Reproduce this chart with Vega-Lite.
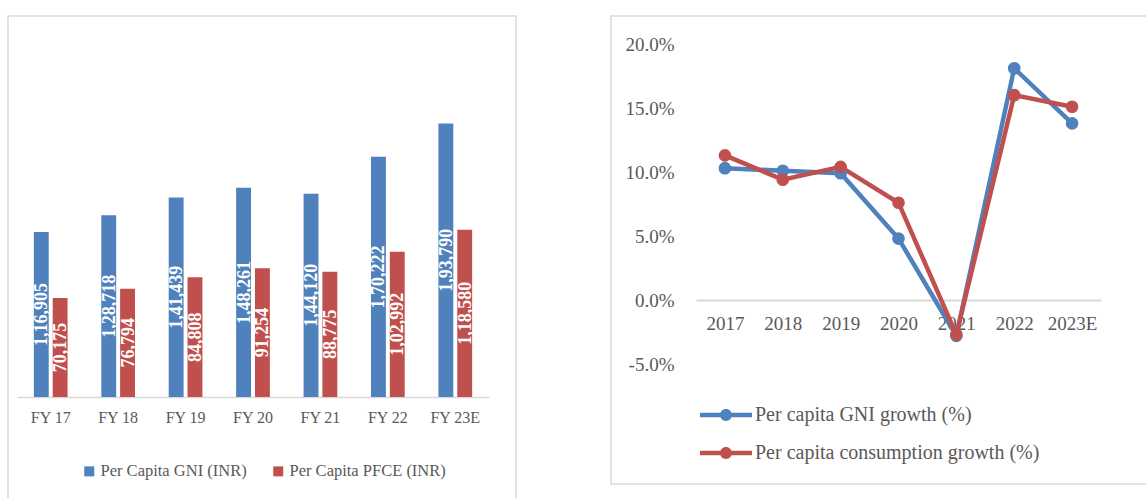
{
  "$schema": "https://vega.github.io/schema/vega-lite/v6.json",
  "padding": {"left": 7, "top": 15, "right": 0, "bottom": 0},
  "background": "white",
  "spacing": 93,
  "config": {
    "view": {"stroke": "#d9d9d9", "strokeWidth": 1.5},
    "font": "Liberation Serif",
    "axis": {"labelFont": "Liberation Serif", "labelColor": "#595959"},
    "legend": {"labelFont": "Liberation Serif", "labelColor": "#595959", "labelLimit": 0}
  },
  "datasets": {
    "levels": [
      {"year": "FY 17", "series": "Per Capita GNI (INR)", "value": 116905, "label": "1,16,905"},
      {"year": "FY 17", "series": "Per Capita PFCE (INR)", "value": 70175, "label": "70,175"},
      {"year": "FY 18", "series": "Per Capita GNI (INR)", "value": 128718, "label": "1,28,718"},
      {"year": "FY 18", "series": "Per Capita PFCE (INR)", "value": 76794, "label": "76,794"},
      {"year": "FY 19", "series": "Per Capita GNI (INR)", "value": 141439, "label": "1,41,439"},
      {"year": "FY 19", "series": "Per Capita PFCE (INR)", "value": 84808, "label": "84,808"},
      {"year": "FY 20", "series": "Per Capita GNI (INR)", "value": 148261, "label": "1,48,261"},
      {"year": "FY 20", "series": "Per Capita PFCE (INR)", "value": 91254, "label": "91,254"},
      {"year": "FY 21", "series": "Per Capita GNI (INR)", "value": 144120, "label": "1,44,120"},
      {"year": "FY 21", "series": "Per Capita PFCE (INR)", "value": 88775, "label": "88,775"},
      {"year": "FY 22", "series": "Per Capita GNI (INR)", "value": 170222, "label": "1,70,222"},
      {"year": "FY 22", "series": "Per Capita PFCE (INR)", "value": 102992, "label": "1,02,992"},
      {"year": "FY 23E", "series": "Per Capita GNI (INR)", "value": 193790, "label": "1,93,790"},
      {"year": "FY 23E", "series": "Per Capita PFCE (INR)", "value": 118580, "label": "1,18,580"}
    ],
    "growth": [
      {"year": "2017", "series": "Per capita GNI growth (%)", "growth": 0.103},
      {"year": "2018", "series": "Per capita GNI growth (%)", "growth": 0.101},
      {"year": "2019", "series": "Per capita GNI growth (%)", "growth": 0.099},
      {"year": "2020", "series": "Per capita GNI growth (%)", "growth": 0.048},
      {"year": "2021", "series": "Per capita GNI growth (%)", "growth": -0.028},
      {"year": "2022", "series": "Per capita GNI growth (%)", "growth": 0.181},
      {"year": "2023E", "series": "Per capita GNI growth (%)", "growth": 0.138},
      {"year": "2017", "series": "Per capita consumption growth (%)", "growth": 0.113},
      {"year": "2018", "series": "Per capita consumption growth (%)", "growth": 0.094},
      {"year": "2019", "series": "Per capita consumption growth (%)", "growth": 0.104},
      {"year": "2020", "series": "Per capita consumption growth (%)", "growth": 0.076},
      {"year": "2021", "series": "Per capita consumption growth (%)", "growth": -0.027},
      {"year": "2022", "series": "Per capita consumption growth (%)", "growth": 0.16},
      {"year": "2023E", "series": "Per capita consumption growth (%)", "growth": 0.151}
    ]
  },
  "resolve": {"scale": {"color": "independent", "x": "independent", "y": "independent"}, "legend": {"color": "independent"}},
  "hconcat": [
    {
      "width": 508,
      "height": 490,
      "data": {"name": "levels"},
      "encoding": {
        "x": {"field": "year", "type": "nominal", "sort": null,
          "scale": {"range": [9, 481], "paddingInner": 0.5, "paddingOuter": 0.25},
          "axis": {"orient": "bottom", "offset": -109, "title": null, "labelAngle": 0, "labelFontSize": 16, "labelPadding": 12, "ticks": false, "domainColor": "#d9d9d9", "domainWidth": 1.5}},
        "xOffset": {"field": "series", "type": "nominal", "sort": null, "scale": {"paddingInner": 0.21, "paddingOuter": 0}}
      },
      "layer": [
        {
          "mark": {"type": "bar"},
          "encoding": {
            "y": {"field": "value", "type": "quantitative", "scale": {"domain": [-77250, 270000], "nice": false}, "axis": null},
            "color": {"field": "series", "type": "nominal", "sort": null, "scale": {"range": ["#4f81bd", "#c0504d"]},
              "legend": {"orient": "none", "legendX": 73, "legendY": 447, "direction": "horizontal", "title": null, "symbolType": "square", "symbolSize": 100, "symbolStrokeWidth": 0, "labelFontSize": 16.5, "columnPadding": 23, "labelOffset": 3}}
          }
        },
        {
          "mark": {"type": "text", "angle": 270, "color": "white", "fontWeight": "bold", "fontSize": 18, "font": "Liberation Serif", "baseline": "middle", "align": "center", "dy": 1},
          "encoding": {
            "y": {"field": "value", "type": "quantitative", "scale": {"domain": [-154500, 540000], "nice": false}, "axis": null},
            "text": {"field": "label"}
          }
        }
      ],
      "resolve": {"scale": {"y": "independent"}}
    },
    {
      "width": 545,
      "height": 468,
      "data": {"name": "growth"},
      "encoding": {
        "x": {"field": "year", "type": "ordinal", "sort": null,
          "scale": {"type": "point", "range": [85, 490], "padding": 0.5},
          "axis": {"orient": "bottom", "offset": -184, "title": null, "labelAngle": 0, "labelFontSize": 19, "labelPadding": 14, "ticks": false, "domainColor": "#d9d9d9", "domainWidth": 2}},
        "y": {"field": "growth", "type": "quantitative",
          "scale": {"domain": [-0.14375, 0.221875], "nice": false, "zero": false},
          "axis": {"orient": "left", "offset": -67, "title": null, "values": [-0.05, 0, 0.05, 0.1, 0.15, 0.2], "format": ".1%", "labelExpr": "replace(datum.label, '\u2212', '-')", "labelFontSize": 19, "labelPadding": 4, "ticks": false, "domain": false, "grid": false}},
        "color": {"field": "series", "type": "nominal", "sort": null, "scale": {"range": ["#4f81bd", "#c0504d"]},
          "legend": {"orient": "none", "legendX": 89, "legendY": 373, "direction": "vertical", "title": null,
            "symbolType": "M-1,-0.085L1,-0.085L1,0.085L-1,0.085Z M-0.23,0A0.23,0.23,0,1,1,0.23,0A0.23,0.23,0,1,1,-0.23,0Z",
            "symbolSize": 2704, "symbolStrokeWidth": 0, "symbolOpacity": 1, "labelFontSize": 20, "labelOffset": 3, "rowPadding": 2}}
      },
      "layer": [
        {"mark": {"type": "line", "strokeWidth": 4.5}},
        {"mark": {"type": "point", "filled": true, "size": 160, "opacity": 1}}
      ]
    }
  ]
}
